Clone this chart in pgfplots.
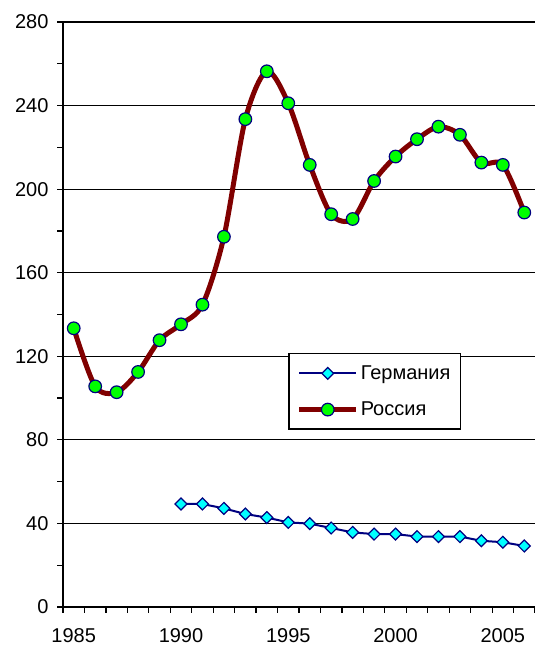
\documentclass[border=0pt]{standalone}
\usepackage{fontspec}
\setmainfont{Liberation Sans}
\usepackage{pgfplots}
\pgfplotsset{compat=1.18}
\definecolor{navyx}{HTML}{000080}
\definecolor{maroonx}{HTML}{800000}
\definecolor{greenx}{HTML}{00FF00}
\definecolor{cyanx}{HTML}{00FFFF}
\begin{document}
\begin{tikzpicture}[x=1bp,y=1bp,font=\fontsize{20bp}{24bp}\selectfont]
\path[use as bounding box] (0,0) rectangle (535,648);
\begin{axis}[
  at={(63bp,41bp)}, anchor=south west,
  scale only axis, width=472bp, height=585bp,
  xmin=1984.5, xmax=2006.5, ymin=0, ymax=280,
  axis x line=bottom, axis y line=left,
  axis line style={-, line width=1.8bp, black},
  tick align=outside,
  major tick length=6bp, minor tick length=6bp,
  tick style={black, line width=1.2bp},
  xtick={1984.5,1985.5,...,2006.5}, xticklabels={},
  extra x ticks={1985,1990,1995,2000,2005},
  extra x tick style={major tick length=0bp, grid=none},
  extra x tick labels={1985,1990,1995,2000,2005},
  ytick={0,40,...,280},
  minor ytick={20,60,...,260},
  ymajorgrids,
  grid style={black, line width=1.2bp},
  /pgf/number format/assume math mode=true,
  /pgf/number format/1000 sep={},
  xticklabel style={yshift=-18bp},
  yticklabel style={xshift=-5bp},
  legend cell align=left,
  legend style={at={(rel axis cs:0.4767,0.4342)}, anchor=north west,
    draw=black, line width=1.5bp, fill=white,
    inner xsep=8bp, inner ysep=10bp, row sep=17bp,
    font=\fontsize{20bp}{24bp}\selectfont},
  legend image code/.code={\draw[mark repeat=2,mark phase=2,#1] plot coordinates {(0bp,0bp) (28.5bp,0bp) (57bp,0bp)};},
  clip=false,
]
\addplot[navyx, line width=2bp, mark=square*, mark size=4.2bp,
  mark options={rotate=45, fill=cyanx, draw=navyx, line width=1.2bp}]
  coordinates {
  (1990,49.3) (1991,49.3) (1992,47.2) (1993,44.5) (1994,42.8) (1995,40.5)
  (1996,39.9) (1997,37.8) (1998,35.7) (1999,34.9) (2000,34.9) (2001,33.7)
  (2002,33.7) (2003,33.7) (2004,31.7) (2005,31.0) (2006,29.2)};
\addlegendentry{Германия}
\addplot[maroonx, line width=5bp, smooth, tension=0.5, mark=*, mark size=6.3bp,
  mark options={fill=greenx, draw=navyx, line width=1.2bp}]
  coordinates {
  (1985,133.4) (1986,105.6) (1987,102.8) (1988,112.5) (1989,127.7) (1990,135.3)
  (1991,144.7) (1992,177.2) (1993,233.5) (1994,256.4) (1995,241.1) (1996,211.6)
  (1997,188.0) (1998,185.7) (1999,203.9) (2000,215.6) (2001,223.9) (2002,229.9)
  (2003,226.0) (2004,212.7) (2005,211.6) (2006,188.8)};
\addlegendentry{Россия}
\end{axis}
\end{tikzpicture}
\end{document}
